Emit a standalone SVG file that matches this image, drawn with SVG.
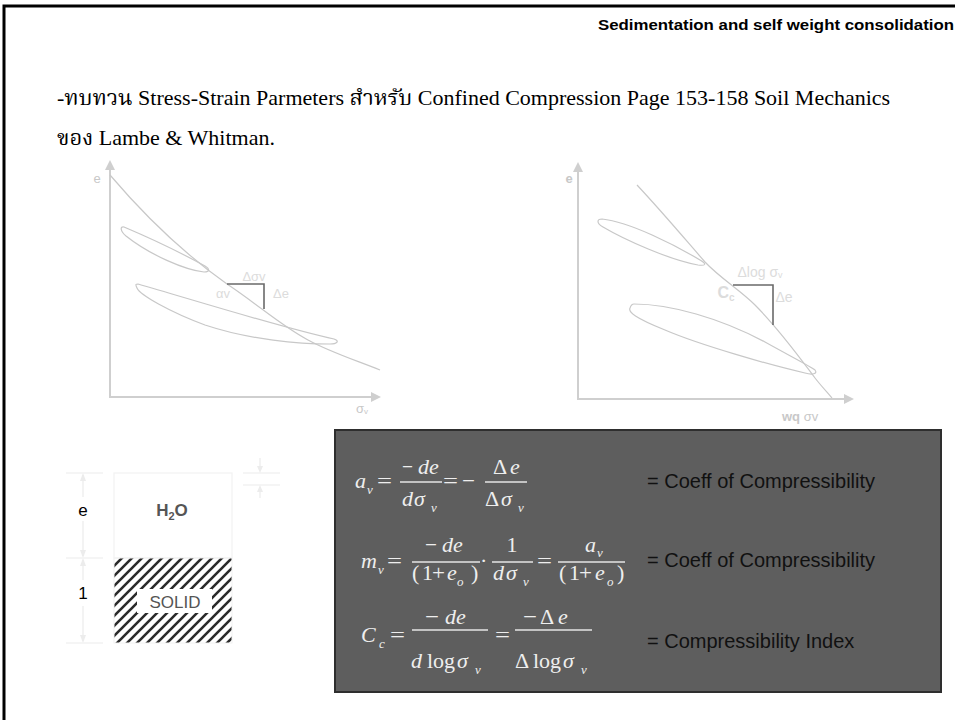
<svg xmlns="http://www.w3.org/2000/svg" width="955" height="720" viewBox="0 0 955 720">
<style>
.frame{fill:none;stroke:#000;stroke-width:3}
.hdr{font-family:"Liberation Sans",Arial,sans-serif;font-weight:bold;font-size:14px;fill:#000}
.body{font-family:"Liberation Serif","Times New Roman","Noto Serif Thai","Noto Sans Thai",serif;font-size:22px;fill:#000}
.axis{stroke:#cfcfcf;stroke-width:2;fill:none}
.ahead{fill:#cfcfcf}
.curve{stroke:#c8c8c8;stroke-width:1.2;fill:none}
.tri{stroke:#6a6a6a;stroke-width:1.6;fill:none}
.glab{font-family:"Liberation Sans",Arial,sans-serif;font-size:13px;fill:#dcdcdc}
.alab{font-family:"Liberation Sans",Arial,sans-serif;font-size:13px;fill:#c8c8c8}
.eq{font-family:"Liberation Serif","Times New Roman",serif;font-size:22px;fill:#eeeeee}
.op{font-family:"Liberation Serif","Times New Roman",serif;font-size:22px;fill:#eeeeee}
.it{font-style:italic}
.sub{font-family:"Liberation Serif","Times New Roman",serif;font-size:13px;font-style:italic;fill:#eeeeee}
.bar{stroke:#e6e6e6;stroke-width:1.3}
.rt{font-family:"Liberation Sans",Arial,sans-serif;font-size:20px;fill:#111}
.dim{stroke:#ececec;stroke-width:1.2;fill:none}
.phl{font-family:"Liberation Sans",Arial,sans-serif;font-size:17px;fill:#000}
</style>
<defs>
<pattern id="hatch" patternUnits="userSpaceOnUse" width="10" height="10">
<path d="M-2,12 L12,-2 M-2,2 L2,-2 M8,12 L12,8" stroke="#2a2a2a" stroke-width="2.6"/>
</pattern>
</defs>
<rect class="frame" x="4" y="6" width="970" height="740"/>
<text class="hdr" x="598" y="30" textLength="356" lengthAdjust="spacingAndGlyphs">Sedimentation and self weight consolidation</text>
<text class="body" x="57" y="105">-ทบทวน Stress-Strain Parmeters สำหรับ Confined Compression Page 153-158 Soil Mechanics</text>
<text class="body" x="57" y="145">ของ Lambe &amp; Whitman.</text>

<g id="graph-left">
<path class="axis" d="M110,168 V397 H372"/>
<path class="ahead" d="M110,160 L105,170 L115,170 Z"/>
<path class="ahead" d="M381,397 L371,392 L371,402 Z"/>
<text class="alab" x="97" y="183" text-anchor="middle">e</text>
<text class="alab" x="362" y="413" text-anchor="middle">σ<tspan font-size="8" dy="1">v</tspan></text>
<path class="curve" d="M110,175 C150,222 190,258 227,284 C260,306 280,325 308,340 C330,352 355,360 380,370"/>
<path class="curve" d="M124,227 C150,238 185,255 205,266 C210,269 210,272 204,272 C185,270 150,255 126,236 C120,231 120,226 124,227 Z"/>
<path class="curve" d="M138,284 C200,302 290,330 334,339 C340,341 337,344 330,344 C300,344 250,340 205,325 C170,312 140,295 137,288 C135,284 136,284 138,284 Z"/>
<path class="tri" d="M227,284 H264 V309"/>
<text class="glab" x="254" y="281" text-anchor="middle">Δσv</text>
<text class="glab" x="223" y="298" text-anchor="middle">αv</text>
<text class="glab" x="281" y="298" text-anchor="middle">Δe</text>
</g>

<g id="graph-right">
<path class="axis" d="M578,170 V399 H845"/>
<path class="ahead" d="M578,162 L573,172 L583,172 Z"/>
<path class="ahead" d="M854,399 L844,394 L844,404 Z"/>
<text class="alab" x="569" y="183" text-anchor="middle" font-weight="bold">e</text>
<text class="alab" x="782" y="421"><tspan font-weight="bold">wq</tspan> σv</text>
<path class="curve" d="M637,185 C665,215 690,245 705,262 C720,278 740,290 755,305 C780,330 800,358 815,378 C822,387 828,393 832,398"/>
<path class="curve" d="M602,219 C630,222 675,245 700,260 C707,264 706,266 698,265 C670,260 625,240 603,227 C596,223 597,219 602,219 Z"/>
<path class="curve" d="M634,304 C670,304 720,318 765,342 C790,356 810,366 815,370 C818,374 812,375 805,373 C770,365 700,345 665,330 C635,318 628,312 630,308 C631,305 632,304 634,304 Z"/>
<path class="tri" d="M733,285 H773 V325"/>
<text class="glab" x="760" y="277" text-anchor="middle" style="font-size:14px">Δlog σ<tspan font-size="9" dy="1">v</tspan></text>
<text class="glab" x="726" y="298" text-anchor="middle" style="font-size:16px;font-weight:bold">C<tspan font-size="10" dy="3">c</tspan></text>
<text class="glab" x="784" y="302" text-anchor="middle" style="font-size:14px">Δe</text>
</g>

<g id="phase-diagram">
<rect x="114" y="473" width="118" height="85" fill="#fff" stroke="#f2f2f2" stroke-width="1.2"/>
<rect x="114" y="558" width="118" height="85" fill="url(#hatch)" stroke="#f2f2f2" stroke-width="1"/>
<rect x="137" y="589" width="75" height="24" fill="#fff"/>
<text x="175" y="608" text-anchor="middle" font-family="Liberation Sans, Arial, sans-serif" font-size="17" fill="#555">SOLID</text>
<text x="172" y="516" text-anchor="middle" font-family="Liberation Sans, Arial, sans-serif" font-size="17" font-weight="bold" fill="#555">H<tspan font-size="11" dy="4">2</tspan><tspan dy="-4">O</tspan></text>
<path class="dim" d="M66,473 H103 M66,558 H103 M66,643 H103"/>
<path class="dim" d="M83,475 V497 M83,521 V556 M83,560 V580 M83,606 V641"/>
<path d="M83,473 L80,481 L86,481 Z M83,558 L80,550 L86,550 Z M83,558 L80,566 L86,566 Z M83,643 L80,635 L86,635 Z" fill="#ececec"/>
<text class="phl" x="83" y="516" text-anchor="middle">e</text>
<text class="phl" x="83" y="599" text-anchor="middle">1</text>
<path class="dim" d="M243,473 H280 M243,485 H280 M260,458 V471 M260,487 V498"/>
<path d="M260,473 L257,466 L263,466 Z M260,485 L257,492 L263,492 Z" fill="#ececec"/>
</g>

<g id="equation-box">
<rect x="335" y="430" width="606" height="262" fill="#5e5e5e" stroke="#2e2e2e" stroke-width="2"/>
<!-- eq 1 -->
<text class="eq it" x="355" y="488">a</text>
<text class="sub" x="367" y="494">v</text>
<text class="op" x="377" y="488" textLength="15" lengthAdjust="spacingAndGlyphs">=</text>
<line class="bar" x1="400" y1="482" x2="442" y2="482"/>
<text class="op" x="402" y="474" textLength="11" lengthAdjust="spacingAndGlyphs">−</text>
<text class="eq it" x="418" y="474">de</text>
<text class="eq it" x="402" y="506">d</text>
<text class="eq it" x="414" y="506">σ</text>
<text class="sub" x="431" y="512">v</text>
<text class="op" x="443" y="488" textLength="15" lengthAdjust="spacingAndGlyphs">=</text>
<text class="op" x="462" y="488" textLength="13" lengthAdjust="spacingAndGlyphs">−</text>
<line class="bar" x1="485" y1="482" x2="527" y2="482"/>
<text class="op" x="493" y="474">Δ</text>
<text class="eq it" x="510" y="474">e</text>
<text class="op" x="485" y="506">Δ</text>
<text class="eq it" x="501" y="506">σ</text>
<text class="sub" x="518" y="512">v</text>
<!-- eq 2 -->
<text class="eq it" x="361" y="568">m</text>
<text class="sub" x="378" y="574">v</text>
<text class="op" x="387" y="568" textLength="15" lengthAdjust="spacingAndGlyphs">=</text>
<line class="bar" x1="412" y1="562" x2="480" y2="562"/>
<text class="op" x="425" y="552" textLength="12" lengthAdjust="spacingAndGlyphs">−</text>
<text class="eq it" x="442" y="552">de</text>
<text class="op" x="412" y="580">(</text>
<text class="op" x="422" y="580">1</text>
<text class="op" x="432" y="580" textLength="13" lengthAdjust="spacingAndGlyphs">+</text>
<text class="eq it" x="447" y="580">e</text>
<text class="sub" x="457" y="586">o</text>
<text class="op" x="471" y="580">)</text>
<text class="op" x="480" y="568">·</text>
<line class="bar" x1="492" y1="562" x2="533" y2="562"/>
<text class="op" x="512" y="552" text-anchor="middle">1</text>
<text class="eq it" x="493" y="580">d</text>
<text class="eq it" x="506" y="580">σ</text>
<text class="sub" x="523" y="586">v</text>
<text class="op" x="537" y="568" textLength="15" lengthAdjust="spacingAndGlyphs">=</text>
<line class="bar" x1="558" y1="562" x2="625" y2="562"/>
<text class="eq it" x="585" y="552">a</text>
<text class="sub" x="597" y="557">v</text>
<text class="op" x="559" y="580">(</text>
<text class="op" x="569" y="580">1</text>
<text class="op" x="579" y="580" textLength="13" lengthAdjust="spacingAndGlyphs">+</text>
<text class="eq it" x="595" y="580">e</text>
<text class="sub" x="607" y="586">o</text>
<text class="op" x="617" y="580">)</text>
<!-- eq 3 -->
<text class="eq it" x="361" y="642">C</text>
<text class="sub" x="379" y="648">c</text>
<text class="op" x="390" y="642" textLength="15" lengthAdjust="spacingAndGlyphs">=</text>
<line class="bar" x1="412" y1="630" x2="488" y2="630"/>
<text class="op" x="425" y="624" textLength="14" lengthAdjust="spacingAndGlyphs">−</text>
<text class="eq it" x="445" y="624">de</text>
<text class="eq it" x="411" y="668">d</text>
<text class="op" x="427" y="668">log</text>
<text class="eq it" x="457" y="668">σ</text>
<text class="sub" x="475" y="674">v</text>
<text class="op" x="495" y="642" textLength="15" lengthAdjust="spacingAndGlyphs">=</text>
<line class="bar" x1="515" y1="630" x2="592" y2="630"/>
<text class="op" x="523" y="624" textLength="14" lengthAdjust="spacingAndGlyphs">−</text>
<text class="op" x="540" y="624">Δ</text>
<text class="eq it" x="558" y="624">e</text>
<text class="op" x="515" y="668">Δ</text>
<text class="op" x="533" y="668">log</text>
<text class="eq it" x="563" y="668">σ</text>
<text class="sub" x="581" y="674">v</text>
<text class="rt" x="647" y="488">= Coeff of Compressibility</text>
<text class="rt" x="647" y="567">= Coeff of Compressibility</text>
<text class="rt" x="647" y="648">= Compressibility Index</text>
</g>
</svg>
